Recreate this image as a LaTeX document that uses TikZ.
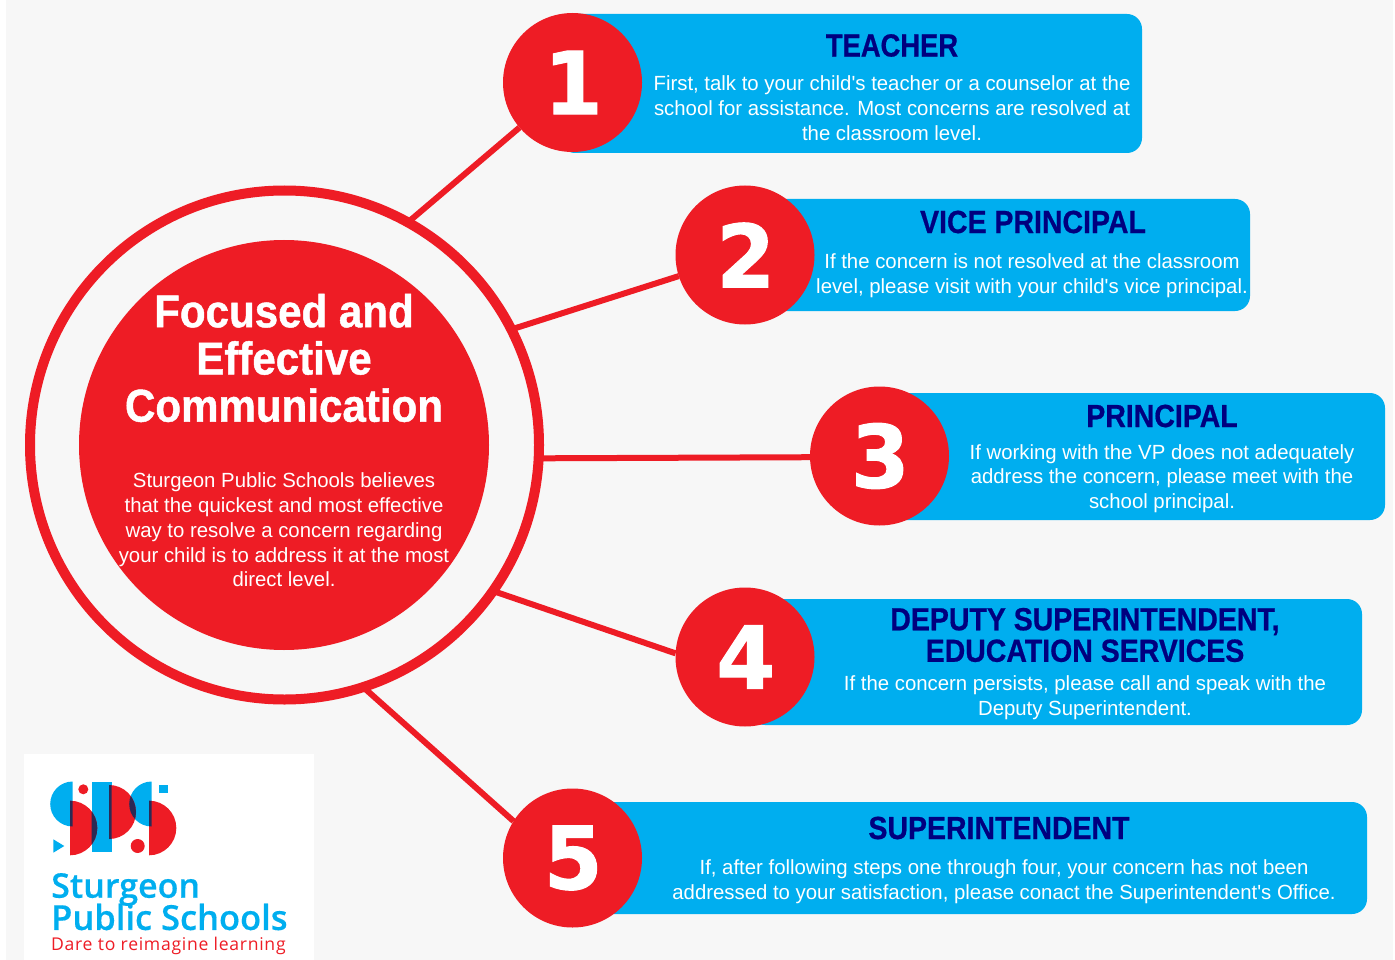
\documentclass[tikz,border=0pt]{standalone}
\usepackage{fontspec}
\setmainfont{Liberation Sans}
\newfontfamily\bodyf[FakeStretch=0.993]{Liberation Sans}
\newfontfamily\titlef[FakeStretch=0.89,FakeBold=0.6]{Liberation Sans Bold}
\newfontfamily\teachf[FakeStretch=0.855,FakeBold=0.6]{Liberation Sans Bold}
\newfontfamily\hubf[FakeStretch=0.915,FakeBold=1]{Liberation Sans Bold}
\newfontfamily\digitf[FakeStretch=0.97,FakeBold=1.2]{DejaVu Sans Bold}
\newfontfamily\logof[FakeBold=0.4]{Open Sans Semibold}
\newfontfamily\logoreg[LetterSpace=4]{Open Sans}
\definecolor{sred}{HTML}{EE1C25}
\definecolor{sblue}{HTML}{00AEEF}
\definecolor{snavy}{HTML}{00007F}
\definecolor{sdark}{HTML}{2B2A55}
\definecolor{sbg}{HTML}{F7F7F7}
\tikzset{
  bluebox/.style={fill=sblue,rounded corners=15pt},
  numcircle/.style={circle,fill=sred,minimum size=139pt,inner sep=0pt,outer sep=0pt,text=white,font=\digitf\fontsize{87}{87}\selectfont},
  link/.style={draw=sred,line width=6pt},
  boxtitle/.style={text=snavy,align=center,inner sep=0pt,font=\titlef\fontsize{32}{34}\selectfont},
  boxbody/.style={text=white,align=center,inner sep=0pt,font=\bodyf\fontsize{20.5}{24.8}\selectfont},
}
\newcommand{\halfL}[3]{(#1,#2-#3) arc[start angle=-90,end angle=-270,radius=#3] -- cycle}
\newcommand{\halfR}[3]{(#1,#2-#3) arc[start angle=-90,end angle=90,radius=#3] -- cycle}
\newcommand{\dg}[1]{\raisebox{-3.5pt}{\hspace{1.5pt}#1}}
\begin{document}
\begin{tikzpicture}[x=1pt,y=-1pt]
\useasboundingbox (0,0) rectangle (1395,960);
\fill[white] (0,0) rectangle (1395,960);
\fill[sbg] (6,0) rectangle (1393,960);
% boxes
\fill[bluebox] (560,14) rectangle (1142,153);
\fill[bluebox] (765,199) rectangle (1250,311);
\fill[bluebox] (885,393) rectangle (1385,520);
\fill[bluebox] (750,599) rectangle (1362,725);
\fill[bluebox] (585,802) rectangle (1367,914);
% hub
\node[circle,draw=sred,line width=10pt,minimum size=509pt,inner sep=0pt,outer sep=0pt] (ring) at (284.5,445) {};
\node[circle,fill=sred,minimum size=410pt,inner sep=0pt,outer sep=0pt] (hub) at (284,445) {};
% number circles
\node[numcircle] (c1) at (572.5,82.5) {\dg{1}};
\node[numcircle] (c2) at (745,255) {\dg{2}};
\node[numcircle] (c3) at (879.5,456) {\dg{3}};
\node[numcircle] (c4) at (745,657) {\dg{4}};
\node[numcircle] (c5) at (572.5,858) {\dg{5}};
% connectors
\draw[link] (ring.61) -- (c1);
\draw[link] (ring.27.5) -- (c2);
\draw[link] (ring.-3) -- (c3.181.7);
\draw[link] (ring.-35) -- (c4.177);
\draw[link] (ring.-72) -- (c5.148);
% hub text
\node[text=white,align=center,inner sep=0pt,font=\hubf\fontsize{46}{47.2}\selectfont] (hubtitle) at (284,358) {Focused and\\Effective\\Communication};
\node[text=white,align=center,inner sep=0pt,font=\bodyf\fontsize{20.5}{24.8}\selectfont] (hubbody) at (284,530) {Sturgeon Public Schools believes\\that the quickest and most effective\\way to resolve a concern regarding\\your child is to address it at the most\\direct level.};
% box text
\node[boxtitle,font=\teachf\fontsize{32}{34}\selectfont] (t1) at (892,45.5) {TEACHER};
\node[boxbody] (b1) at (892,108) {First, talk to your child's teacher or a counselor at the\\school for assistance. Most concerns are resolved at\\the classroom level.};
\node[boxtitle] (t2) at (1033,222) {VICE PRINCIPAL};
\node[boxbody] (b2) at (1032,275.5) {If the concern is not resolved at the classroom\\level, please visit with your child's vice principal.};
\node[boxtitle] (t3) at (1162,416) {PRINCIPAL};
\node[boxbody] (b3) at (1162,478.5) {If working with the VP does not adequately\\address the concern, please meet with the\\school principal.};
\node[boxtitle,font=\titlef\fontsize{32}{31.5}\selectfont] (t4) at (1085,635) {DEPUTY SUPERINTENDENT,\\EDUCATION SERVICES};
\node[boxbody] (b4) at (1085,698) {If the concern persists, please call and speak with the\\Deputy Superintendent.};
\node[boxtitle] (t5) at (999,828) {SUPERINTENDENT};
\node[boxbody] (b5) at (1004,882) {If, after following steps one through four, your concern has not been\\addressed to your satisfaction, please conact the Superintendent's Office.};
% logo
\fill[white] (24,754) rectangle (314,960);
\fill[sblue] (91.7,781.7) rectangle (111.7,852);
\fill[sblue] \halfL{72.7}{804}{22.5};
\fill[sblue] \halfL{151.7}{804}{22.5};
\fill[sred] \halfR{70}{828}{27.3};
\fill[sred] \halfR{109}{812}{27};
\fill[sred] \halfR{149}{828}{27.3};
\begin{scope}\clip \halfL{72.7}{804}{22.5};\fill[sdark] \halfR{70}{828}{27.3};\end{scope}
\begin{scope}\clip (91.7,781.7) rectangle (111.7,852);\fill[sdark] \halfR{70}{828}{27.3};\fill[sdark] \halfR{109}{812}{27};\end{scope}
\begin{scope}\clip \halfL{151.7}{804}{22.5};\fill[sdark] \halfR{109}{812}{27};\fill[sdark] \halfR{149}{828}{27.3};\end{scope}
\fill[sred] (83.3,789.3) circle[radius=5];
\fill[sred] (137.7,846) circle[radius=7];
\fill[sblue] (159.3,785) rectangle (168,793);
\fill[sblue] (53.3,839.3) -- (53.3,852.7) -- (64.3,846) -- cycle;
\node[anchor=west,text=sblue,inner sep=0pt,font=\logof\fontsize{34}{34}\selectfont] (l1) at (51,889.5) {Sturgeon};
\node[anchor=west,text=sblue,inner sep=0pt,font=\logof\fontsize{34.5}{34.5}\selectfont] (l2) at (51,917) {Public Schools};
\node[anchor=west,text=sred,inner sep=0pt,font=\logoreg\fontsize{17.6}{17.6}\selectfont] (l3) at (51,946) {Dare to reimagine learning};
\end{tikzpicture}
\end{document}
